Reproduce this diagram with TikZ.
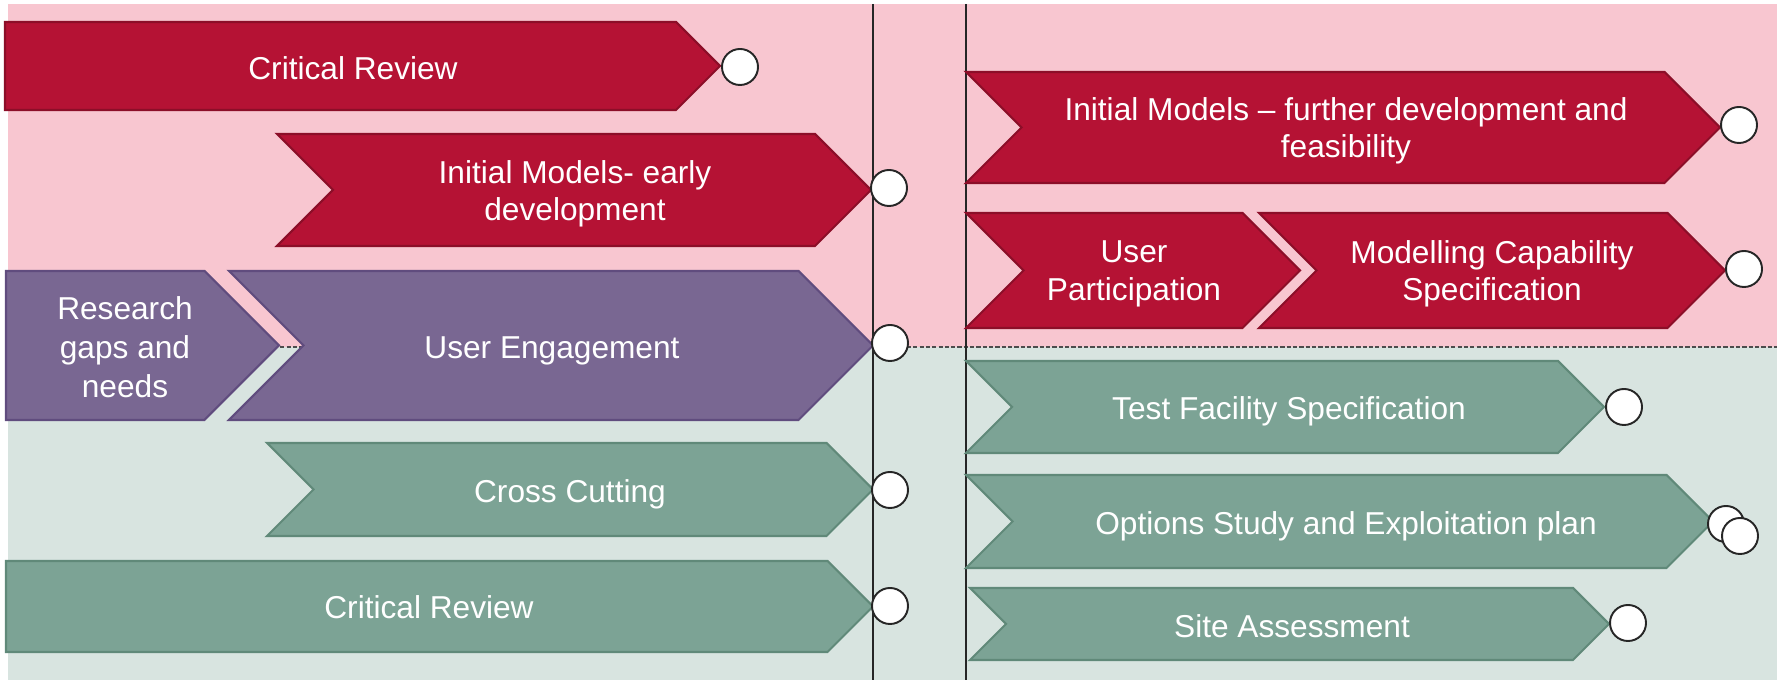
\documentclass[tikz,border=0pt]{standalone}
\usepackage{fontspec}
\setmainfont{Liberation Sans}

\definecolor{bgpink}{RGB}{248,198,208}
\definecolor{bggreen}{RGB}{216,228,224}
\definecolor{barred}{RGB}{181,18,52}
\definecolor{barredline}{RGB}{140,14,40}
\definecolor{barpurple}{RGB}{121,103,146}
\definecolor{barpurpleline}{RGB}{96,76,126}
\definecolor{bargreen}{RGB}{124,163,149}
\definecolor{bargreenline}{RGB}{96,137,121}

% chevron bar: style, left x, tip x, top y, bottom y, notch (0 or 1)
\newcommand{\chevbar}[6]{%
  \filldraw[#1] (#2,#4) -- ({#3-(#5-#4)/2},#4) -- (#3,{(#4+#5)/2})
    -- ({#3-(#5-#4)/2},#5) -- (#2,#5) -- ({#2+#6*(#5-#4)/2},{(#4+#5)/2}) -- cycle;}

\begin{document}
\begin{tikzpicture}[x=0.01cm, y=-0.01cm,
	redbar/.style={fill=barred, draw=barredline, line width=0.6pt},
	purplebar/.style={fill=barpurple, draw=barpurpleline, line width=0.6pt},
	greenbar/.style={fill=bargreen, draw=bargreenline, line width=0.6pt},
	bartext/.style={text=white, align=center, inner sep=0pt, font=\fontsize{9}{10.7}\selectfont},
	milestone/.style={circle, draw=black!85, line width=0.55pt, fill=white, minimum size=0.36cm, inner sep=0pt}]
		
		\useasboundingbox (0,0) rectangle (1781,680);
		
		%Background
		\fill[bgpink] (8,4) rectangle (1777,347);
		\fill[bggreen] (8,347) rectangle (1777,680);
		\draw[black!70, line width=0.45pt, dash pattern=on 1.2pt off 0.6pt] (8,347) -- (1777,347);
		\draw[black!85, line width=0.4pt] (873,4) -- (873,680);
		\draw[black!85, line width=0.4pt] (966,4) -- (966,680);
		
		%Left bars
		\chevbar{redbar}{5}{720}{22}{110}{0}
		\chevbar{redbar}{277}{871}{134}{246}{1}
		\chevbar{purplebar}{6}{279}{271}{420}{0}
		\chevbar{purplebar}{229}{873}{271}{420}{1}
		\chevbar{greenbar}{267}{873}{443}{536}{1}
		\chevbar{greenbar}{6}{873}{561}{652}{0}
		
		%Right bars
		\chevbar{redbar}{966}{1720}{72}{183}{1}
		\chevbar{redbar}{966}{1300}{213}{328}{1}
		\chevbar{redbar}{1259}{1725}{213}{328}{1}
		\chevbar{greenbar}{966}{1604}{361}{453}{1}
		\chevbar{greenbar}{966}{1713}{475}{568}{1}
		\chevbar{greenbar}{970}{1609}{588}{660}{1}
		
		%Labels
		\node (critReview) at (353,68.5) [bartext]{Critical Review};
		\node (earlyModels) at (575,194) [bartext]{Initial Models- early\\development};
		\node (researchGaps) at (125,347) [bartext, font=\fontsize{9}{11.1}\selectfont]{Research\\gaps and\\needs};
		\node (userEngagement) at (552,350.5) [bartext]{User Engagement};
		\node (crossCutting) at (570,494) [bartext]{Cross Cutting};
		\node (critReviewB) at (429,607.5) [bartext]{Critical Review};
		\node (furtherModels) at (1346,131) [bartext]{Initial Models -- further development and\\feasibility};
		\node (userParticipation) at (1134,274) [bartext]{User\\Participation};
		\node (capabilitySpec) at (1492,274) [bartext]{Modelling Capability\\Specification};
		\node (testFacility) at (1289,411.5) [bartext]{Test Facility Specification};
		\node (optionsStudy) at (1346,526.5) [bartext]{Options Study and Exploitation plan};
		\node (siteAssessment) at (1292,626) [bartext]{Site Assessment};
		
		%Milestones
		\node (msCritReview) at (740,67) [milestone]{};
		\node (msEarlyModels) at (889,188) [milestone]{};
		\node (msUserEngagement) at (890,343) [milestone]{};
		\node (msCrossCutting) at (890,490) [milestone]{};
		\node (msCritReviewB) at (890,606) [milestone]{};
		\node (msFurtherModels) at (1739,125) [milestone]{};
		\node (msCapabilitySpec) at (1744,269) [milestone]{};
		\node (msTestFacility) at (1624,407) [milestone]{};
		\node (msOptionsA) at (1726,524) [milestone]{};
		\node (msOptionsB) at (1740,536) [milestone]{};
		\node (msSiteAssessment) at (1628,623) [milestone]{};
		
		\end{tikzpicture}
\end{document}
